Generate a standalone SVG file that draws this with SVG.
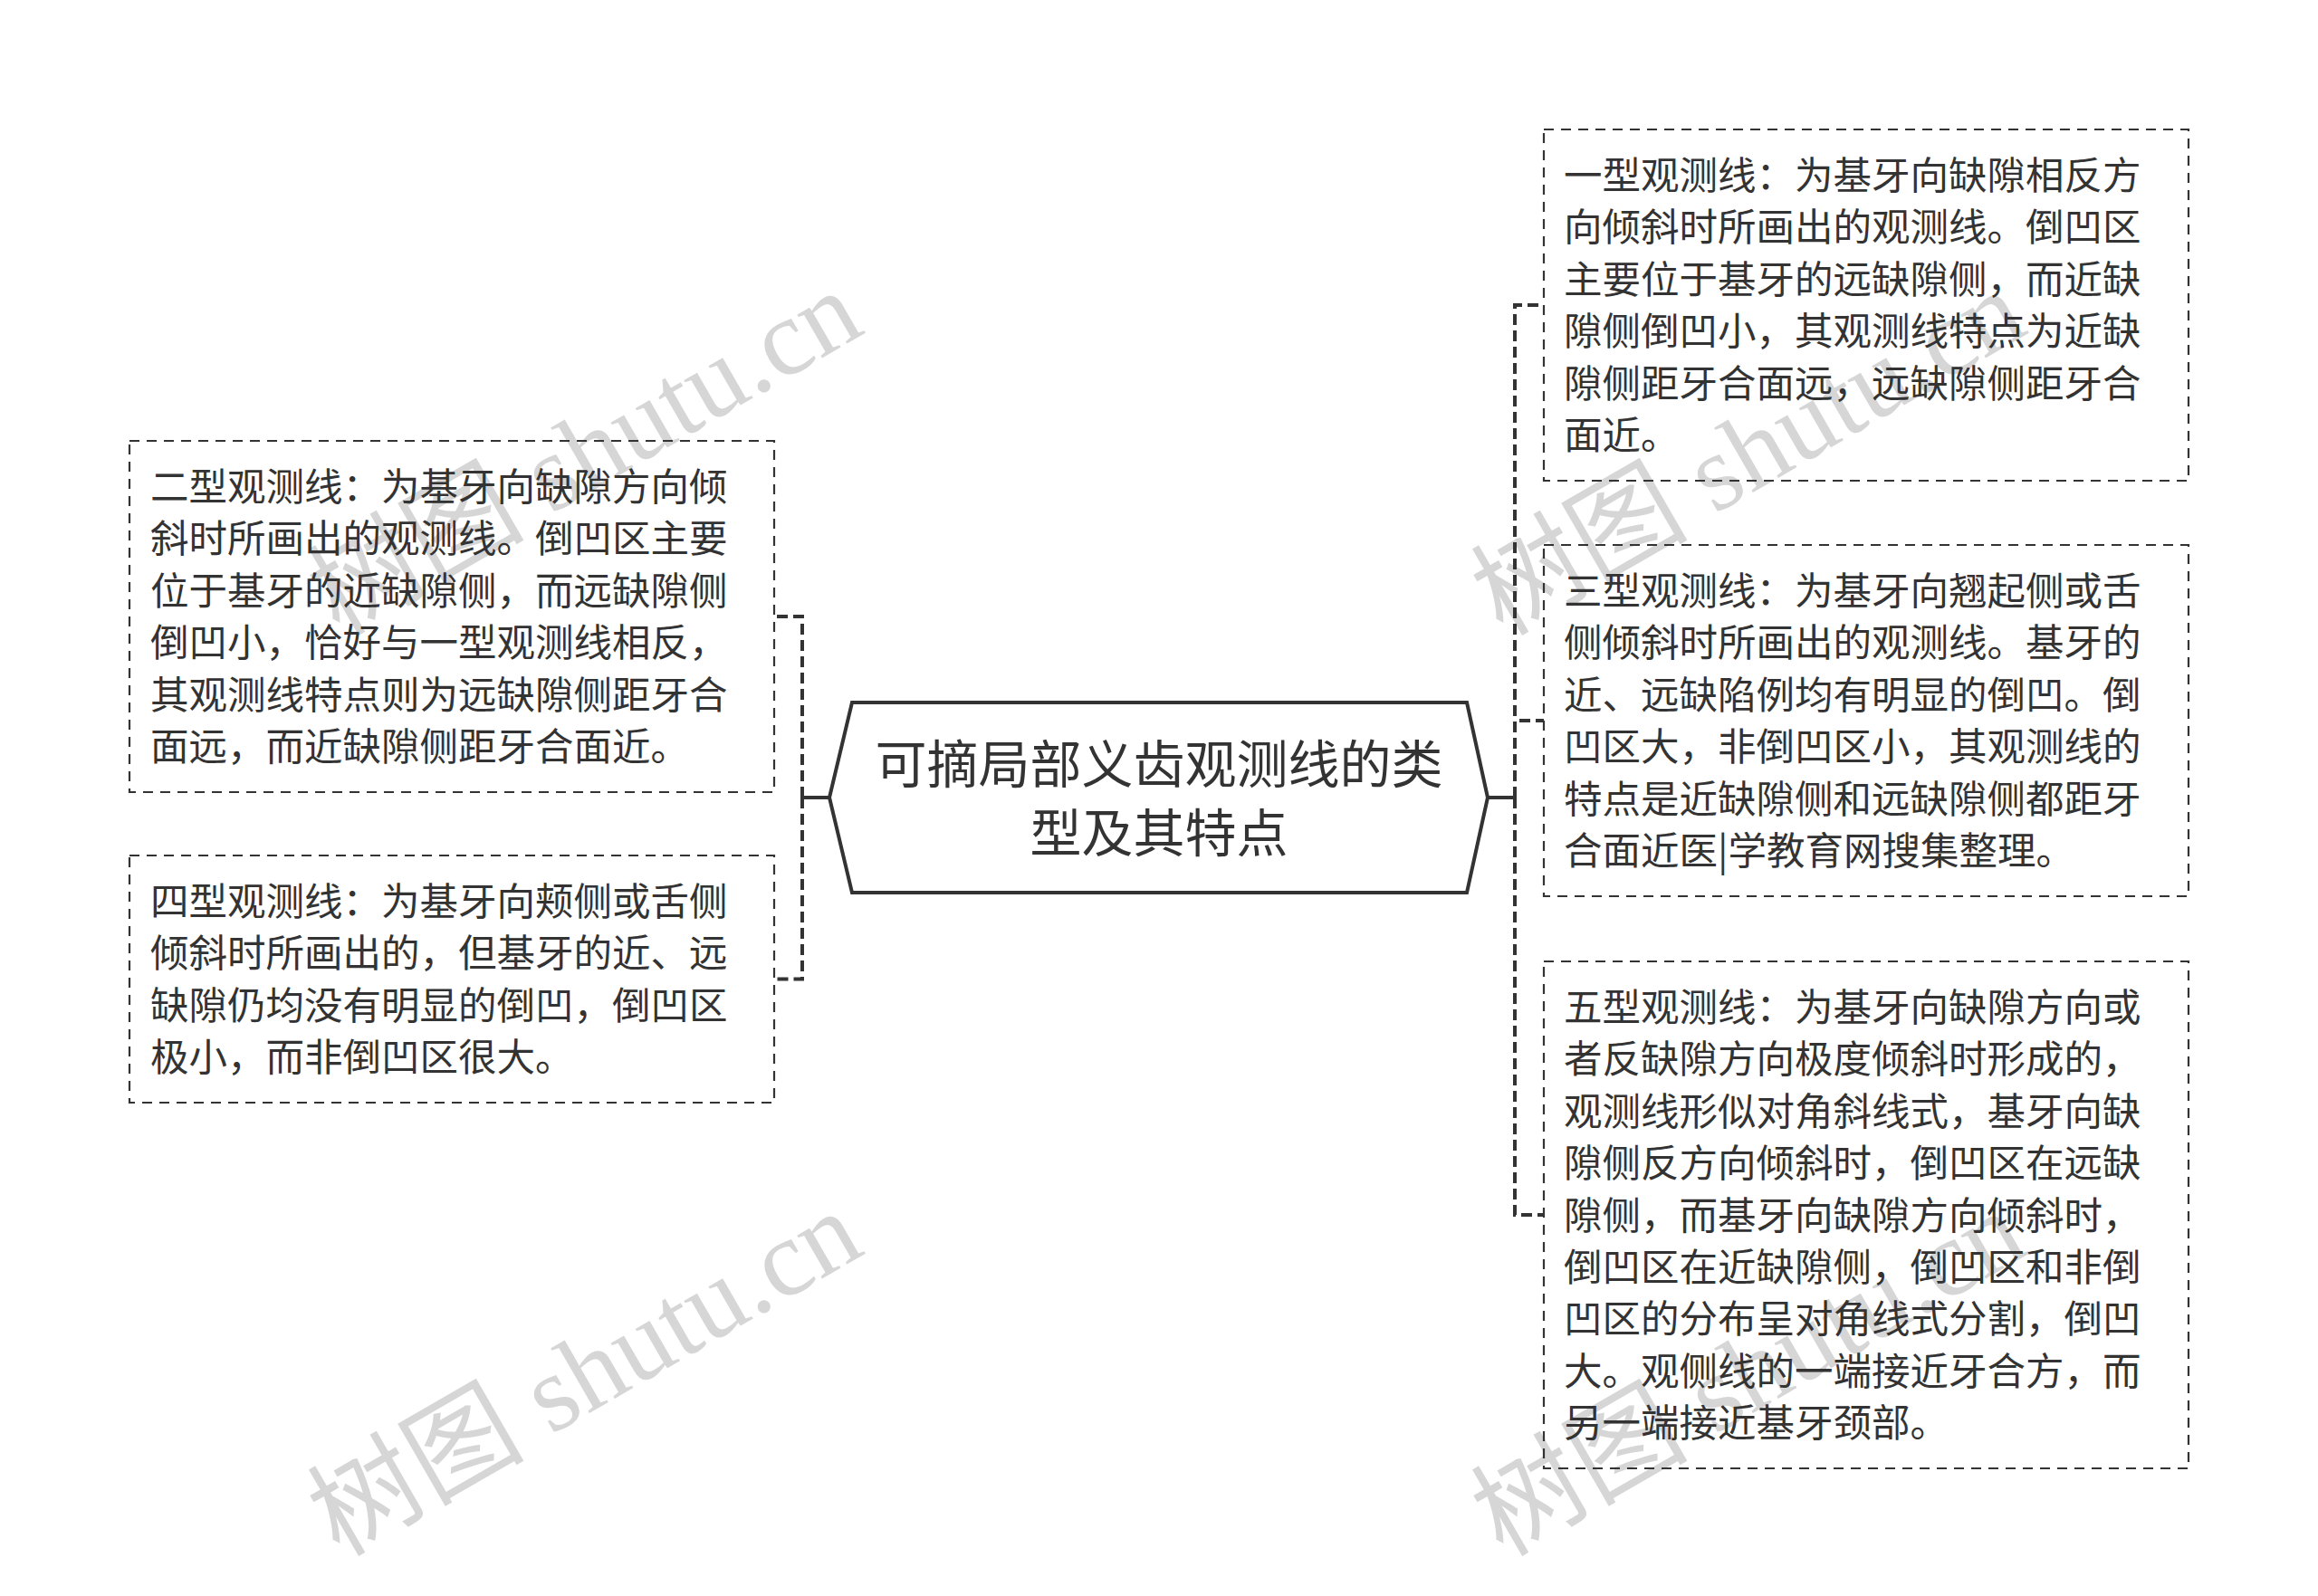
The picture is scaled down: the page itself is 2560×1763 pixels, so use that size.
<svg xmlns="http://www.w3.org/2000/svg" width="2560" height="1763" viewBox="0 0 2560 1763">
<style>
.bg{fill:#ffffff}
.wm{font-family:"Liberation Serif","Noto Sans CJK SC",serif;font-size:120px;fill:#d6d6d6;text-anchor:middle}
.box{fill:none;stroke:#333333;stroke-width:2.2;stroke-dasharray:11 8}
.txt{font-family:"Noto Sans CJK SC","Noto Sans",sans-serif;font-size:42.5px;fill:#333333}
.title{font-family:"Noto Sans CJK SC","Noto Sans",sans-serif;font-size:57px;fill:#333333;text-anchor:middle}
.hex{fill:#ffffff;stroke:#333333;stroke-width:4}
.con{fill:none;stroke:#333333;stroke-width:4;stroke-dasharray:12 6}
.solid{fill:none;stroke:#333333;stroke-width:4}
</style>
<rect class="bg" x="0" y="0" width="2560" height="1763"/>
<g id="watermarks">
<text class="wm" transform="translate(648,504) rotate(-30)" x="0" y="36">树图 shutu.cn</text>
<text class="wm" transform="translate(648,1521) rotate(-30)" x="0" y="36">树图 shutu.cn</text>
<text class="wm" transform="translate(1933,504) rotate(-30)" x="0" y="36">树图 shutu.cn</text>
<text class="wm" transform="translate(1933,1521) rotate(-30)" x="0" y="36">树图 shutu.cn</text>
</g>
<g id="connectors">
<path class="con" d="M1673,881 V337 H1705"/>
<path class="con" d="M1673,881 V796 H1705"/>
<path class="con" d="M1673,881 V1342 H1705"/>
<path class="solid" d="M1643,881 H1675"/>
<path class="con" d="M886,881 V681 H855"/>
<path class="con" d="M886,881 V1081.5 H855"/>
<path class="solid" d="M916,881 H884"/>
</g>
<g id="root">
<polygon class="hex" points="916,881 941,776 1620,776 1643,881 1620,986 941,986"/>
<text class="title"><tspan x="1280" y="864.5">可摘局部义齿观测线的类</tspan><tspan x="1280" y="940.5">型及其特点</tspan></text>
</g>
<g id="node-type1">
<rect class="box" x="1705" y="143" width="712" height="388"/>
<text class="txt">
<tspan x="1727" y="209">一型观测线：为基牙向缺隙相反方</tspan>
<tspan x="1727" y="266.4">向倾斜时所画出的观测线。倒凹区</tspan>
<tspan x="1727" y="323.8">主要位于基牙的远缺隙侧，而近缺</tspan>
<tspan x="1727" y="381.2">隙侧倒凹小，其观测线特点为近缺</tspan>
<tspan x="1727" y="438.6">隙侧距牙合面远，远缺隙侧距牙合</tspan>
<tspan x="1727" y="496">面近。</tspan>
</text>
</g>
<g id="node-type3">
<rect class="box" x="1705" y="602" width="712" height="388"/>
<text class="txt">
<tspan x="1727" y="668">三型观测线：为基牙向翘起侧或舌</tspan>
<tspan x="1727" y="725.4">侧倾斜时所画出的观测线。基牙的</tspan>
<tspan x="1727" y="782.8">近、远缺陷例均有明显的倒凹。倒</tspan>
<tspan x="1727" y="840.2">凹区大，非倒凹区小，其观测线的</tspan>
<tspan x="1727" y="897.6">特点是近缺隙侧和远缺隙侧都距牙</tspan>
<tspan x="1727" y="955">合面近医|学教育网搜集整理。</tspan>
</text>
</g>
<g id="node-type5">
<rect class="box" x="1705" y="1062" width="712" height="560"/>
<text class="txt">
<tspan x="1727" y="1128">五型观测线：为基牙向缺隙方向或</tspan>
<tspan x="1727" y="1185.4">者反缺隙方向极度倾斜时形成的，</tspan>
<tspan x="1727" y="1242.8">观测线形似对角斜线式，基牙向缺</tspan>
<tspan x="1727" y="1300.2">隙侧反方向倾斜时，倒凹区在远缺</tspan>
<tspan x="1727" y="1357.6">隙侧，而基牙向缺隙方向倾斜时，</tspan>
<tspan x="1727" y="1415">倒凹区在近缺隙侧，倒凹区和非倒</tspan>
<tspan x="1727" y="1472.4">凹区的分布呈对角线式分割，倒凹</tspan>
<tspan x="1727" y="1529.8">大。观侧线的一端接近牙合方，而</tspan>
<tspan x="1727" y="1587.2">另一端接近基牙颈部。</tspan>
</text>
</g>
<g id="node-type2">
<rect class="box" x="143" y="487" width="712" height="388"/>
<text class="txt">
<tspan x="166" y="553">二型观测线：为基牙向缺隙方向倾</tspan>
<tspan x="166" y="610.4">斜时所画出的观测线。倒凹区主要</tspan>
<tspan x="166" y="667.8">位于基牙的近缺隙侧，而远缺隙侧</tspan>
<tspan x="166" y="725.2">倒凹小，恰好与一型观测线相反，</tspan>
<tspan x="166" y="782.6">其观测线特点则为远缺隙侧距牙合</tspan>
<tspan x="166" y="840">面远，而近缺隙侧距牙合面近。</tspan>
</text>
</g>
<g id="node-type4">
<rect class="box" x="143" y="945" width="712" height="273"/>
<text class="txt">
<tspan x="166" y="1011">四型观测线：为基牙向颊侧或舌侧</tspan>
<tspan x="166" y="1068.4">倾斜时所画出的，但基牙的近、远</tspan>
<tspan x="166" y="1125.8">缺隙仍均没有明显的倒凹，倒凹区</tspan>
<tspan x="166" y="1183.2">极小，而非倒凹区很大。</tspan>
</text>
</g>
</svg>
